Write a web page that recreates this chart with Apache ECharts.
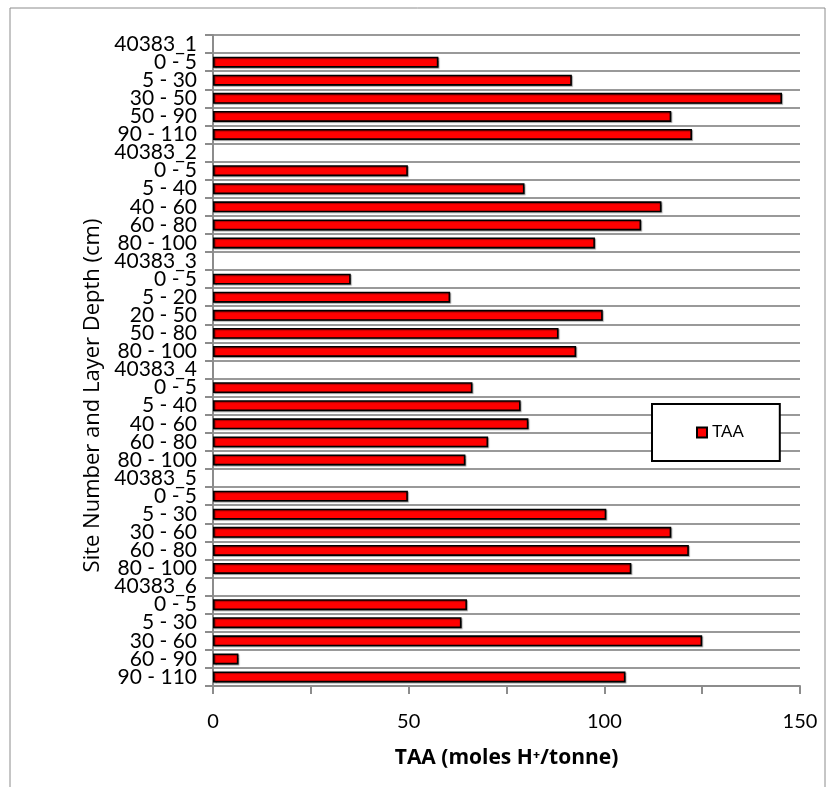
<!DOCTYPE html>
<html>
<head>
<meta charset="utf-8">
<script src="https://cdn.jsdelivr.net/npm/echarts@6/dist/echarts.min.js"></script>
<style>
  html, body { margin: 0; padding: 0; background: #fff; }
  #chart { width: 835px; height: 787px; }
</style>
</head>
<body>
<div id="chart"></div>
<script>
// Site headers and soil layer depths (cm), listed top to bottom
const categories = [
  '40383_1', '0 - 5', '5 - 30', '30 - 50', '50 - 90', '90 - 110',
  '40383_2', '0 - 5', '5 - 40', '40 - 60', '60 - 80', '80 - 100',
  '40383_3', '0 - 5', '5 - 20', '20 - 50', '50 - 80', '80 - 100',
  '40383_4', '0 - 5', '5 - 40', '40 - 60', '60 - 80', '80 - 100',
  '40383_5', '0 - 5', '5 - 30', '30 - 60', '60 - 80', '80 - 100',
  '40383_6', '0 - 5', '5 - 30', '30 - 60', '60 - 90', '90 - 110'
];

// Total actual acidity (moles H+/tonne); header rows carry no value
const taaValues = [
  null, 57.6, 91.7, 145.4, 117.1, 122.4,
  null, 49.8, 79.6, 114.6, 109.4, 97.6,
  null, 35.2, 60.6, 99.6, 88.3, 92.8,
  null, 66.3, 78.6, 80.6, 70.3, 64.5,
  null, 49.8, 100.5, 117.1, 121.6, 106.9,
  null, 64.9, 63.5, 125.0, 6.5, 105.4
];

const xTicks = [0, 50, 100, 150];

const chart = echarts.init(document.getElementById('chart'));
const FONT = 'Lato';
const TITLE_FONT = 'Open Sans';

chart.setOption({
  backgroundColor: '#ffffff',
  animation: false,
  textStyle: { fontFamily: FONT },
  grid: { left: 213, right: 35, top: 35, bottom: 101, containLabel: false },
  graphic: [{
    type: 'rect',
    shape: { x: 10, y: 8, width: 815, height: 800 },
    style: { fill: 'none', stroke: '#8c8c8c', lineWidth: 1 },
    silent: true,
    z: -1
  }],
  legend: {
    data: ['TAA'],
    left: 652,
    top: 404,
    orient: 'vertical',
    backgroundColor: '#ffffff',
    borderColor: '#000000',
    borderWidth: 2,
    borderRadius: 0,
    padding: [20, 36, 20, 44],
    itemWidth: 10,
    itemHeight: 10,
    icon: 'rect',
    textStyle: { fontFamily: 'Liberation Sans', fontSize: 17, color: '#000' }
  },
  xAxis: {
    type: 'value',
    min: 0,
    max: 150,
    interval: 25,
    name: 'TAA (moles H\u207A/tonne)',
    nameLocation: 'middle',
    nameGap: 62,
    nameTextStyle: { fontFamily: TITLE_FONT, fontSize: 21, fontWeight: 'bold', color: '#000' },
    axisLine: { show: true, lineStyle: { color: '#8c8c8c', width: 2 } },
    axisTick: { show: true, length: 8, lineStyle: { color: '#8c8c8c', width: 2 } },
    axisLabel: {
      margin: 26,
      fontSize: 20,
      color: '#000',
      formatter: v => (xTicks.indexOf(v) >= 0 ? String(v) : '')
    },
    splitLine: { show: false }
  },
  yAxis: {
    type: 'category',
    data: categories,
    inverse: true,
    name: 'Site Number and Layer Depth (cm)',
    nameLocation: 'middle',
    nameGap: 108,
    nameRotate: 90,
    nameTextStyle: { fontFamily: TITLE_FONT, fontSize: 22, color: '#000', padding: [0, 70, 0, 0] },
    axisLine: { show: true, lineStyle: { color: '#8c8c8c', width: 2 } },
    axisTick: { show: true, length: 8, alignWithLabel: false, lineStyle: { color: '#8c8c8c', width: 2 } },
    axisLabel: { margin: 16, fontSize: 21, color: '#000', interval: 0 },
    splitLine: { show: true, lineStyle: { color: '#999999', width: 2 } }
  },
  series: [{
    name: 'TAA',
    type: 'bar',
    data: taaValues,
    barWidth: 11,
    itemStyle: {
      color: '#ff0000',
      borderColor: '#000000',
      borderWidth: 1.6,
      shadowColor: 'rgba(0,0,0,0.35)',
      shadowOffsetX: 1,
      shadowOffsetY: 1,
      shadowBlur: 1
    }
  }]
});
</script>
</body>
</html>
